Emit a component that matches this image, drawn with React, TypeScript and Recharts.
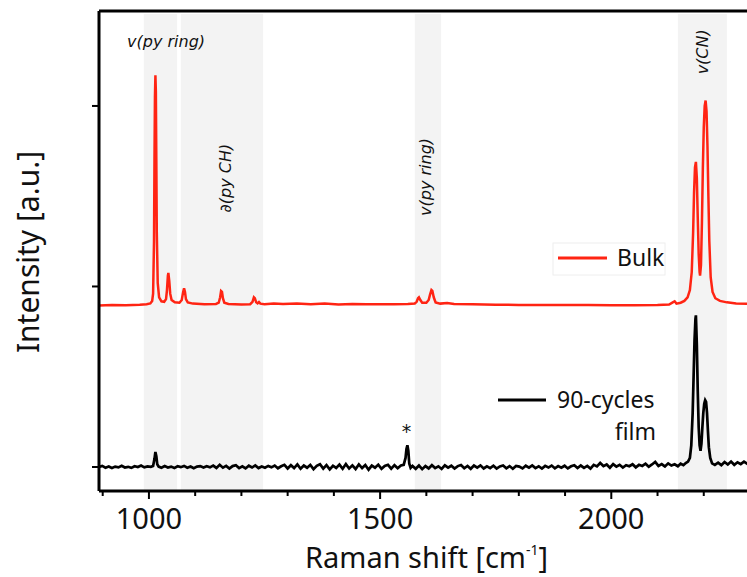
import React from 'react';
import {
  LineChart, Line, XAxis, YAxis, ReferenceArea, ReferenceDot, ReferenceLine, Legend,
} from 'recharts';

// Raman shift [cm-1], intensity [a.u.] (bulk spectrum is offset upward)
const bulkSpectrum: [number, number][] = [
  [892, 0.895], [920, 0.897], [950, 0.896], [980, 0.899], [995, 0.902], [1003, 0.906],
  [1007, 0.92], [1009, 0.96], [1011, 1.25], [1012, 1.7], [1013, 2.05], [1014, 2.17],
  [1015, 2.08], [1016, 1.7], [1017, 1.3], [1019, 1.02], [1022, 0.94], [1027, 0.918],
  [1033, 0.915], [1037, 0.93], [1039, 0.98], [1041, 1.06], [1042, 1.075], [1044, 1.03],
  [1046, 0.96], [1049, 0.925], [1056, 0.912], [1066, 0.91], [1071, 0.925], [1074, 0.97],
  [1076, 0.99], [1078, 0.97], [1080, 0.93], [1084, 0.912], [1095, 0.905], [1120, 0.902],
  [1145, 0.903], [1151, 0.91], [1154, 0.94], [1156, 0.975], [1158, 0.97], [1160, 0.935],
  [1163, 0.91], [1172, 0.903], [1200, 0.9], [1219, 0.902], [1224, 0.915], [1227, 0.94],
  [1229, 0.935], [1232, 0.912], [1235, 0.906], [1238, 0.914], [1241, 0.905], [1250, 0.902],
  [1270, 0.906], [1290, 0.903], [1320, 0.905], [1350, 0.902], [1380, 0.905], [1410, 0.9],
  [1440, 0.903], [1470, 0.901], [1500, 0.902], [1530, 0.901], [1560, 0.903], [1575, 0.906],
  [1579, 0.915], [1582, 0.935], [1584, 0.94], [1587, 0.925], [1591, 0.91], [1600, 0.91],
  [1605, 0.925], [1608, 0.955], [1611, 0.98], [1613, 0.975], [1616, 0.94], [1620, 0.912],
  [1630, 0.905], [1645, 0.908], [1660, 0.903], [1700, 0.901], [1750, 0.899], [1800, 0.898],
  [1850, 0.898], [1900, 0.897], [1950, 0.897], [2000, 0.896], [2050, 0.896], [2100, 0.897],
  [2125, 0.9], [2133, 0.912], [2137, 0.918], [2141, 0.905], [2150, 0.91], [2158, 0.92],
  [2165, 0.94], [2170, 0.98], [2174, 1.08], [2177, 1.3], [2179, 1.52], [2181, 1.66],
  [2183, 1.69], [2185, 1.6], [2187, 1.38], [2189, 1.18], [2191, 1.08], [2192, 1.06],
  [2194, 1.12], [2196, 1.35], [2198, 1.65], [2200, 1.88], [2202, 2.0], [2204, 2.03],
  [2206, 1.97], [2208, 1.78], [2210, 1.5], [2212, 1.25], [2215, 1.05], [2219, 0.97],
  [2225, 0.935], [2235, 0.92], [2250, 0.912], [2270, 0.906], [2300, 0.903],
];

const filmSpectrum: [number, number][] = [
  [892, 0.0], [899, 0.006], [906, -0.004], [913, 0.003], [920, -0.006], [927, 0.002],
  [934, -0.002], [941, 0.007], [948, -0.003], [955, 0.001], [962, -0.005], [969, 0.004],
  [976, 0.0], [983, 0.008], [990, -0.002], [997, 0.003], [1004, 0.001], [1009, 0.006],
  [1012, 0.045], [1014, 0.083], [1016, 0.06], [1018, 0.015], [1021, 0.002], [1027, -0.004],
  [1034, 0.005], [1041, -0.003], [1048, 0.002], [1055, -0.006], [1062, 0.004], [1069, -0.001],
  [1076, 0.006], [1083, -0.004], [1090, 0.003], [1097, -0.007], [1104, 0.002], [1111, 0.005],
  [1118, -0.003], [1125, 0.004], [1132, -0.002], [1139, 0.008], [1146, -0.005], [1153, 0.012],
  [1160, -0.004], [1167, 0.006], [1174, -0.009], [1181, 0.005], [1188, 0.01], [1195, -0.006],
  [1202, 0.004], [1209, -0.008], [1216, 0.007], [1223, -0.003], [1230, 0.009], [1237, -0.006],
  [1244, 0.003], [1251, -0.004], [1258, 0.006], [1265, -0.002], [1272, 0.008], [1279, -0.007],
  [1286, 0.004], [1293, 0.012], [1300, -0.008], [1307, 0.01], [1314, -0.006], [1321, 0.014],
  [1328, -0.01], [1335, 0.008], [1342, -0.004], [1349, 0.011], [1356, -0.012], [1363, 0.006],
  [1370, 0.015], [1377, -0.009], [1384, 0.01], [1391, -0.013], [1398, 0.007], [1405, -0.005],
  [1412, 0.013], [1419, -0.01], [1426, 0.016], [1433, -0.008], [1440, 0.009], [1447, -0.011],
  [1454, 0.014], [1461, -0.006], [1468, 0.011], [1475, -0.015], [1482, 0.008], [1489, -0.004],
  [1496, 0.013], [1503, -0.01], [1510, 0.006], [1517, 0.012], [1524, -0.009], [1531, 0.01],
  [1538, -0.007], [1545, 0.008], [1551, 0.012], [1555, 0.05], [1557, 0.1], [1559, 0.12],
  [1561, 0.09], [1563, 0.02], [1566, -0.005], [1570, 0.006], [1577, -0.01], [1584, 0.008],
  [1591, -0.012], [1598, 0.005], [1605, -0.008], [1612, 0.01], [1619, -0.006], [1626, 0.004],
  [1633, -0.011], [1640, 0.009], [1647, -0.004], [1654, 0.007], [1661, -0.009], [1668, 0.005],
  [1675, 0.011], [1682, -0.007], [1689, 0.006], [1696, -0.01], [1703, 0.008], [1710, -0.003],
  [1717, 0.009], [1724, -0.008], [1731, 0.004], [1738, -0.006], [1745, 0.007], [1752, -0.009],
  [1759, 0.003], [1766, 0.008], [1773, -0.007], [1780, 0.005], [1787, -0.01], [1794, 0.006],
  [1801, 0.002], [1808, -0.008], [1815, 0.007], [1822, -0.004], [1829, 0.009], [1836, -0.006],
  [1843, 0.004], [1850, -0.009], [1857, 0.006], [1864, -0.003], [1871, 0.008], [1878, -0.007],
  [1885, 0.005], [1892, -0.004], [1899, 0.007], [1906, -0.008], [1913, 0.004], [1920, 0.01],
  [1927, -0.006], [1934, 0.008], [1941, -0.005], [1948, 0.006], [1955, -0.009], [1962, 0.012],
  [1969, 0.003], [1976, 0.022], [1983, 0.005], [1990, 0.014], [1997, -0.004], [2004, 0.016],
  [2011, 0.002], [2018, 0.012], [2025, -0.003], [2032, 0.01], [2039, 0.004], [2046, 0.015],
  [2053, -0.002], [2060, 0.012], [2067, 0.006], [2074, 0.018], [2081, 0.001], [2088, 0.014],
  [2095, 0.028], [2102, 0.006], [2109, 0.016], [2116, 0.003], [2123, 0.02], [2130, 0.008],
  [2137, 0.015], [2144, 0.004], [2150, 0.018], [2156, 0.01], [2161, 0.022], [2166, 0.03],
  [2170, 0.05], [2173, 0.12], [2176, 0.3], [2178, 0.5], [2180, 0.7], [2182, 0.82],
  [2183, 0.84], [2185, 0.68], [2187, 0.42], [2189, 0.22], [2191, 0.12], [2193, 0.09],
  [2195, 0.13], [2197, 0.22], [2199, 0.3], [2201, 0.35], [2203, 0.37], [2205, 0.36],
  [2207, 0.3], [2209, 0.2], [2211, 0.11], [2214, 0.05], [2218, 0.02], [2224, 0.012],
  [2231, 0.024], [2238, 0.01], [2245, 0.028], [2252, 0.014], [2259, 0.03], [2266, 0.012],
  [2273, 0.026], [2280, 0.016], [2287, 0.03], [2294, 0.018], [2300, 0.024],
];

// shaded assignment bands [from, to]
const bands: [number, number][] = [[989, 1061], [1069, 1247], [1575, 1632], [2144, 2250]];

// band labels: text, x, y, rotated
const annotations: { text: string; x: number; y: number; rotated: boolean }[] = [
  { text: 'v(py ring)', x: 1037, y: 2.355, rotated: false },
  { text: '∂(py CH)', x: 1166, y: 1.6, rotated: true },
  { text: 'v(py ring)', x: 1599, y: 1.607, rotated: true },
  { text: 'v(CN)', x: 2198, y: 2.3, rotated: true },
];
const asterisk = { text: '*', x: 1557, y: 0.2 };

const xTicks = [900, 1000, 1100, 1200, 1300, 1400, 1500, 1600, 1700, 1800, 1900, 2000, 2100, 2200];
const xMajor = [1000, 1500, 2000];
const yTicks = [0, 1, 2];
const X_DOMAIN: [number, number] = [892, 2300];
const Y_DOMAIN: [number, number] = [-0.133, 2.526];

const bulk = bulkSpectrum.map(([x, y]) => ({ x, y }));
const film = filmSpectrum.map(([x, y]) => ({ x, y }));

const FONT = '"Noto Sans", "DejaVu Sans", sans-serif';
const RED = '#ff2413';

function XTick(props: any) {
  const { x, y, payload } = props;
  const major = xMajor.includes(payload.value);
  return (
    <g>
      <line x1={x} x2={x} y1={y} y2={y + (major ? 8 : 5)} stroke="#000" strokeWidth={2} />
      {major && (
        <text x={x} y={y + 38} textAnchor="middle" fontSize={29} fontFamily={FONT} fill="#111">
          {payload.value}
        </text>
      )}
    </g>
  );
}

function YTick(props: any) {
  const { x, y } = props;
  return <line x1={x} x2={x - 7} y1={y} y2={y} stroke="#000" strokeWidth={2} />;
}

function XLabel(props: any) {
  const { viewBox } = props;
  const cx = viewBox.x + viewBox.width / 2 + 2;
  return (
    <text x={cx} y={viewBox.y + 77} textAnchor="middle" fontSize={29} fontFamily={FONT} fill="#111">
      Raman shift [cm<tspan dy={-13} fontSize={14}>-1</tspan><tspan dy={13}>]</tspan>
    </text>
  );
}

function YLabel(props: any) {
  const { viewBox } = props;
  const cx = viewBox.x + 39;
  const cy = viewBox.y + viewBox.height / 2 + 1;
  return (
    <text x={cx} y={cy} transform={`rotate(-90 ${cx} ${cy})`} textAnchor="middle"
      fontSize={30} fontFamily={FONT} fill="#111">
      Intensity [a.u.]
    </text>
  );
}

function annotationLabel(text: string, rotated: boolean, italic = true, size = 16) {
  return (props: any) => {
    const { viewBox } = props;
    const cx = viewBox.x + viewBox.width / 2;
    const cy = viewBox.y + viewBox.height / 2;
    return (
      <text x={cx} y={cy} textAnchor="middle" dominantBaseline="central"
        transform={rotated ? `rotate(-90 ${cx} ${cy})` : undefined}
        fontSize={size} fontStyle={italic ? 'italic' : 'normal'}
        fontFamily='"DejaVu Sans", sans-serif' fill="#111">
        {text}
      </text>
    );
  };
}

function LegendContent() {
  return (
    <svg width={747} height={577} style={{ position: 'absolute', left: 0, top: 0, overflow: 'visible', pointerEvents: 'none' }}>
      <rect x={553} y={243} width={112} height={32} fill="#fff" stroke="#eeeeee" />
      <line x1={558} x2={607} y1={258} y2={258} stroke={RED} strokeWidth={3} />
      <text x={617} y={266} fontSize={23} fontFamily={FONT} fill="#111">Bulk</text>
      <line x1={498} x2={546} y1={400} y2={400} stroke="#000" strokeWidth={3} />
      <text x={557} y={408} fontSize={23} fontFamily={FONT} fill="#111">90-cycles</text>
      <text x={656} y={440} textAnchor="end" fontSize={23} fontFamily={FONT} fill="#111">film</text>
    </svg>
  );
}

export default function App() {
  return (
    <div style={{ position: 'absolute', left: 0, top: 0, width: 747, height: 577, overflow: 'hidden', background: '#fff' }}>
      <LineChart width={760} height={577} margin={{ top: 11, right: 10, bottom: 0, left: 0 }}>
        <XAxis
          dataKey="x"
          type="number"
          domain={X_DOMAIN}
          ticks={xTicks}
          allowDataOverflow
          height={86}
          axisLine={{ stroke: '#000', strokeWidth: 3 }}
          tickLine={false}
          tickSize={0}
          tickMargin={0}
          tick={<XTick />}
          interval={0}
          label={{ content: XLabel }}
        />
        <YAxis
          type="number"
          domain={Y_DOMAIN}
          ticks={yTicks}
          allowDataOverflow
          width={99}
          tickLine={false}
          tickSize={0}
          tickMargin={0}
          tick={<YTick />}
          interval={0}
          axisLine={{ stroke: '#000', strokeWidth: 3 }}
          label={{ content: YLabel }}
        />
        {bands.map(([a, b], i) => (
          <ReferenceArea key={i} x1={a} x2={b} y1={Y_DOMAIN[0]} y2={2.51} fill="#f3f3f3" fillOpacity={1} stroke="none" ifOverflow="hidden" />
        ))}
        <ReferenceLine y={Y_DOMAIN[1]} stroke="#000" strokeWidth={3} />
        <Legend
          layout="horizontal"
          verticalAlign="middle"
          align="center"
          wrapperStyle={{ left: 0, top: 0, width: 0, height: 0, overflow: 'visible' }}
          content={LegendContent}
        />
        <Line data={bulk} dataKey="y" name="Bulk" stroke={RED} strokeWidth={2.5} dot={false} isAnimationActive={false} />
        <Line data={film} dataKey="y" name="90-cycles film" stroke="#000" strokeWidth={2.7} dot={false} isAnimationActive={false} />
        {annotations.map((a, i) => (
          <ReferenceDot key={i} x={a.x} y={a.y} r={1} fill="none" stroke="none" label={{ content: annotationLabel(a.text, a.rotated) }} />
        ))}
        <ReferenceDot x={asterisk.x} y={asterisk.y} r={1} fill="none" stroke="none" label={{ content: annotationLabel(asterisk.text, false, false, 19) }} />
      </LineChart>
    </div>
  );
}
